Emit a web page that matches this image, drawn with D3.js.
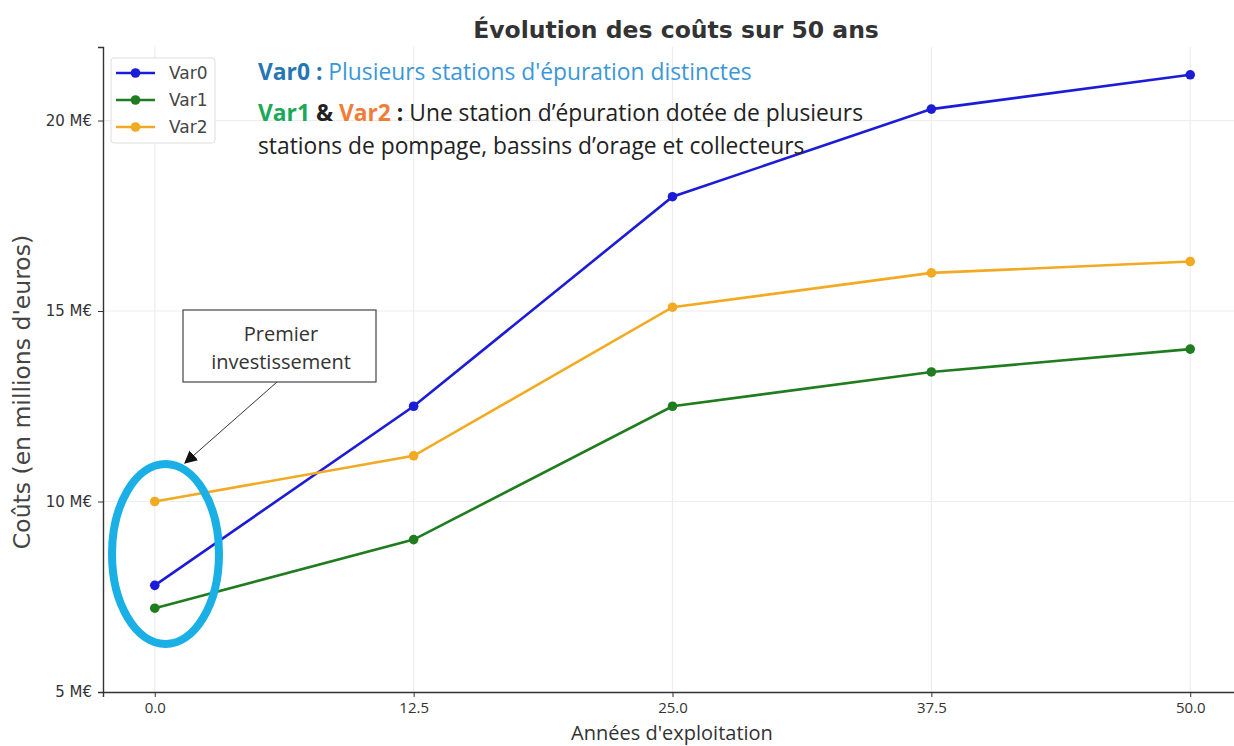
<!DOCTYPE html>
<html><head><meta charset="utf-8">
<script src="https://cdn.jsdelivr.net/npm/d3@7"></script>
<style>body{margin:0;background:#fff;}svg{display:block;}</style>
</head><body>
<svg id="c" width="1234" height="746"></svg>
<script>
const years = [0, 12.5, 25, 37.5, 50];
const var0 = [7.8, 12.5, 18.0, 20.3, 21.2];
const var1 = [7.2, 9.0, 12.5, 13.4, 14.0];
const var2 = [10.0, 11.2, 15.1, 16.0, 16.3];
const seriesNames = ["Var0", "Var1", "Var2"];
const seriesColors = ["#1c1cd8", "#1f7d1f", "#f2aa22"];
const xTicks = [0, 12.5, 25, 37.5, 50];
const yTicks = [5, 10, 15, 20];

const svg = d3.select("#c");
const pL = 103, pB = 692, pT = 47, pR = 1242;
const x = d3.scaleLinear().domain([-2.5, 52.5]).range([pL, pR]);
const y = d3.scaleLinear().domain([5, 21.93]).range([pB, pT]);

// grid
const g = svg.append("g");
g.selectAll(".vg").data(xTicks).join("line")
  .attr("x1", d => x(d)).attr("x2", d => x(d)).attr("y1", pT).attr("y2", pB)
  .attr("stroke", "#ededed").attr("stroke-width", 1.2);
g.selectAll(".hg").data(yTicks.filter(d => d > 5)).join("line")
  .attr("x1", pL).attr("x2", pR).attr("y1", d => y(d)).attr("y2", d => y(d))
  .attr("stroke", "#ededed").attr("stroke-width", 1.2);

// axes
const xa = svg.append("g").attr("transform", `translate(0,${pB})`)
  .call(d3.axisBottom(x).tickValues(xTicks).tickFormat(d3.format(".1f")).tickSize(5).tickPadding(4));
const ya = svg.append("g").attr("transform", `translate(${pL},0)`)
  .call(d3.axisLeft(y).tickValues(yTicks).tickFormat(d => d + " M€").tickSize(5).tickPadding(6));
[xa, ya].forEach(a => {
  a.select(".domain").attr("stroke", "#333").attr("stroke-width", 1.4);
  a.selectAll(".tick line").attr("stroke", "#333");
  a.selectAll("text").attr("fill", "#333");
});
xa.selectAll("text").attr("font-family", "Open Sans").attr("font-size", 15).attr("dy", "0.8em");
ya.selectAll("text").attr("font-family", "DejaVu Sans").attr("font-size", 15);

// lines
const data = [var0, var1, var2];
const line = d3.line().x((d, i) => x(years[i])).y(d => y(d));
data.forEach((s, k) => {
  svg.append("path").datum(s).attr("d", line).attr("fill", "none")
    .attr("stroke", seriesColors[k]).attr("stroke-width", 2.6);
  svg.append("g").selectAll("circle").data(s).join("circle")
    .attr("cx", (d, i) => x(years[i])).attr("cy", d => y(d)).attr("r", 4.8)
    .attr("fill", seriesColors[k]);
});

// title
svg.append("text").attr("x", 676).attr("y", 38).attr("text-anchor", "middle")
  .attr("font-family", "DejaVu Sans").attr("font-weight", "bold").attr("font-size", 23.5)
  .attr("fill", "#333").text("Évolution des coûts sur 50 ans");

// axis labels
svg.append("text").attr("x", 672).attr("y", 740).attr("text-anchor", "middle")
  .attr("font-family", "Open Sans").attr("font-size", 20).attr("fill", "#333")
  .text("Années d'exploitation");
svg.append("text").attr("transform", "translate(30,392) rotate(-90)").attr("text-anchor", "middle")
  .attr("font-family", "DejaVu Sans").attr("font-size", 23.5).attr("fill", "#444")
  .text("Coûts (en millions d'euros)");

// legend
const lg = svg.append("g");
lg.append("rect").attr("x", 111).attr("y", 58).attr("width", 104).attr("height", 85)
  .attr("fill", "#fff").attr("stroke", "#ddd").attr("rx", 3);
seriesNames.forEach((n, k) => {
  const yy = 73 + k * 27;
  lg.append("line").attr("x1", 116).attr("x2", 155).attr("y1", yy).attr("y2", yy)
    .attr("stroke", seriesColors[k]).attr("stroke-width", 2.6);
  lg.append("circle").attr("cx", 135.5).attr("cy", yy).attr("r", 4.8).attr("fill", seriesColors[k]);
  lg.append("text").attr("x", 169).attr("y", yy + 6).attr("font-family", "DejaVu Sans")
    .attr("font-size", 17).attr("fill", "#444").text(n);
});

// description text
const fs = 22.8;
const t1 = svg.append("text").attr("x", 258).attr("y", 80).attr("font-family", "Open Sans").attr("font-size", fs);
t1.append("tspan").attr("font-weight", "bold").attr("fill", "#2676b5").text("Var0 : ");
t1.append("tspan").attr("fill", "#3b97d8").text("Plusieurs stations d'épuration distinctes");
const t2 = svg.append("text").attr("x", 258).attr("y", 121).attr("font-family", "Open Sans").attr("font-size", fs);
t2.append("tspan").attr("font-weight", "bold").attr("fill", "#1ca85a").text("Var1 ");
t2.append("tspan").attr("font-weight", "bold").attr("fill", "#222").text("& ");
t2.append("tspan").attr("font-weight", "bold").attr("fill", "#f07d38").text("Var2 ");
t2.append("tspan").attr("font-weight", "bold").attr("fill", "#222").text(": ");
t2.append("tspan").attr("fill", "#222").text("Une station d’épuration dotée de plusieurs");
svg.append("text").attr("x", 258).attr("y", 154).attr("font-family", "Open Sans").attr("font-size", fs)
  .attr("fill", "#222").text("stations de pompage, bassins d’orage et collecteurs");

// ellipse
svg.append("ellipse").attr("cx", 165.5).attr("cy", 554).attr("rx", 53.5).attr("ry", 90)
  .attr("fill", "none").attr("stroke", "#1ab0e6").attr("stroke-width", 8);

// annotation box + arrow
svg.append("defs").append("marker").attr("id", "ah").attr("viewBox", "0 0 10 10")
  .attr("refX", 9).attr("refY", 5).attr("markerWidth", 13).attr("markerHeight", 13)
  .attr("markerUnits", "userSpaceOnUse").attr("orient", "auto")
  .append("path").attr("d", "M0,0 L10,5 L0,10 z").attr("fill", "#111");
svg.append("line").attr("x1", 277).attr("y1", 382).attr("x2", 185).attr("y2", 463)
  .attr("stroke", "#333").attr("stroke-width", 1).attr("marker-end", "url(#ah)");
svg.append("rect").attr("x", 183).attr("y", 310).attr("width", 193).attr("height", 72)
  .attr("fill", "#fff").attr("stroke", "#444").attr("stroke-width", 1.2);
const at = svg.append("text").attr("text-anchor", "middle").attr("font-family", "Open Sans")
  .attr("font-size", 20).attr("fill", "#333");
at.append("tspan").attr("x", 281).attr("y", 341).text("Premier");
at.append("tspan").attr("x", 281).attr("y", 369).text("investissement");
</script>
</body></html>
